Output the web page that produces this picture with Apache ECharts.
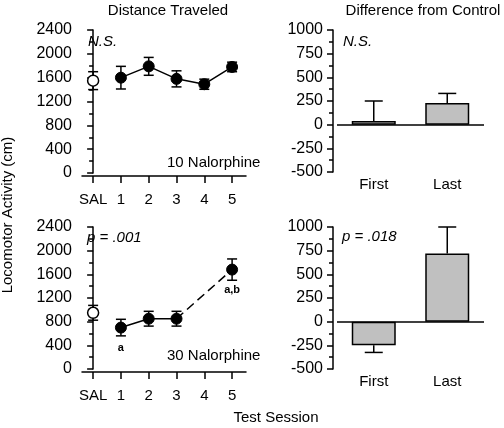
<!DOCTYPE html>
<html>
<head>
<meta charset="utf-8">
<script src="https://cdn.jsdelivr.net/npm/echarts@6/dist/echarts.min.js"></script>
<style>html,body{margin:0;padding:0;background:#fff}#c{width:504px;height:428px}</style>
</head>
<body>
<div id="c"></div>
<script>
// ---- data ----
const sessionLabels = ['SAL', '1', '2', '3', '4', '5'];
const sessionX = [0, 1, 2, 3, 4, 5];
const nal10Mean = [1550, 1600, 1790, 1580, 1490, 1780];
const nal10Err = [150, 190, 150, 135, 85, 80];
const nal30Mean = [950, 700, 850, 850, null, 1680];
const nal30Err = [125, 140, 125, 125, null, 180];
const diffCats = ['First', 'Last'];
const diff10 = [40, 230];
const diff10Err = [210, 100];
const diff30 = [-250, 720];
const diff30Err = [75, 280];
const leftYTicks = [0, 400, 800, 1200, 1600, 2000, 2400];
const rightYTicks = [-500, -250, 0, 250, 500, 750, 1000];

const FONT = 'Liberation Sans, Arial, sans-serif';
const FS = 15;
const YFS = 16;
const BLACK = '#000';
const LW = 1.5;

function yAxisCfg(grid, ticks, offset) {
  return {
    type: 'value', gridIndex: grid, min: ticks[0], max: ticks[ticks.length - 1],
    interval: ticks[1] - ticks[0], offset: offset || 0,
    axisLine: { show: true, lineStyle: { color: BLACK, width: LW } },
    axisTick: { show: true, length: 6, lineStyle: { color: BLACK, width: LW } },
    minorTick: { show: true, splitNumber: 2, length: 4, lineStyle: { color: BLACK, width: LW } },
    splitLine: { show: false }, minorSplitLine: { show: false },
    axisLabel: { color: BLACK, fontSize: YFS, fontFamily: FONT, margin: 10, formatter: v => String(v) }
  };
}
function xSessionAxis(grid) {
  return {
    type: 'value', gridIndex: grid, min: -0.4, max: 5.5, offset: 3,
    axisLine: { show: true, onZero: false, lineStyle: { color: BLACK, width: LW } },
    axisTick: { show: true, length: 7, customValues: sessionX, lineStyle: { color: BLACK, width: LW } },
    splitLine: { show: false },
    axisLabel: { show: true, customValues: sessionX, color: BLACK, fontSize: FS, fontFamily: FONT, margin: 16,
      formatter: v => sessionLabels[Math.round(v)] }
  };
}
function xDiffAxis(grid) {
  return {
    type: 'category', gridIndex: grid, data: diffCats,
    axisLine: { show: false, onZero: false }, axisTick: { show: false },
    axisLabel: { color: BLACK, fontSize: FS, fontFamily: FONT, margin: 5 }
  };
}

function errRender(capW, oneSided) {
  return function (params, api) {
    const x = api.value(0), y = api.value(1), e = api.value(2);
    const hiV = oneSided ? (y >= 0 ? y + e : y) : y + e;
    const loV = oneSided ? (y >= 0 ? y : y - e) : y - e;
    const endV = oneSided ? (y >= 0 ? y + e : y - e) : null;
    const hi = api.coord([x, hiV]), lo = api.coord([x, loV]);
    const children = [{ type: 'line', shape: { x1: hi[0], y1: hi[1], x2: lo[0], y2: lo[1] }, style: { stroke: BLACK, lineWidth: LW } }];
    const caps = oneSided ? [api.coord([x, endV])] : [hi, lo];
    caps.forEach(p => children.push({ type: 'line', shape: { x1: p[0] - capW / 2, y1: p[1], x2: p[0] + capW / 2, y2: p[1] }, style: { stroke: BLACK, lineWidth: LW } }));
    return { type: 'group', children };
  };
}

function pts(xs, ys, from, to) {
  const out = [];
  for (let i = from; i <= to; i++) if (ys[i] != null) out.push([xs[i], ys[i]]);
  return out;
}
function errData(xs, ys, es) {
  const out = [];
  for (let i = 0; i < xs.length; i++) if (ys[i] != null) out.push([xs[i], ys[i], es[i]]);
  return out;
}

const markerFilled = { color: BLACK, borderColor: BLACK, borderWidth: 1, opacity: 1 };
const markerOpen = { color: '#fff', borderColor: BLACK, borderWidth: LW, opacity: 1 };

const series = [];
// top-left
series.push({ type: 'custom', xAxisIndex: 0, yAxisIndex: 0, z: 1, clip: false, renderItem: errRender(10, false), data: errData(sessionX, nal10Mean, nal10Err) });
series.push({ type: 'line', xAxisIndex: 0, yAxisIndex: 0, z: 2, showSymbol: false, lineStyle: { color: BLACK, width: LW }, data: pts(sessionX, nal10Mean, 1, 5) });
series.push({ type: 'scatter', xAxisIndex: 0, yAxisIndex: 0, z: 3, symbolSize: 11, itemStyle: markerFilled, data: pts(sessionX, nal10Mean, 1, 5) });
series.push({ type: 'scatter', xAxisIndex: 0, yAxisIndex: 0, z: 3, symbolSize: 11, itemStyle: markerOpen, data: pts(sessionX, nal10Mean, 0, 0) });
// bottom-left
series.push({ type: 'custom', xAxisIndex: 2, yAxisIndex: 2, z: 1, clip: false, renderItem: errRender(10, false), data: errData(sessionX, nal30Mean, nal30Err) });
series.push({ type: 'line', xAxisIndex: 2, yAxisIndex: 2, z: 2, showSymbol: false, lineStyle: { color: BLACK, width: LW }, data: pts(sessionX, nal30Mean, 1, 3) });
series.push({ type: 'line', xAxisIndex: 2, yAxisIndex: 2, z: 2, showSymbol: false, lineStyle: { color: BLACK, width: LW, type: [9, 5] }, data: pts(sessionX, nal30Mean, 3, 5) });
const sigLabels = { 1: 'a', 5: 'a,b' };
series.push({ type: 'scatter', xAxisIndex: 2, yAxisIndex: 2, z: 3, symbolSize: 11, itemStyle: markerFilled,
  data: pts(sessionX, nal30Mean, 1, 5).map(p => ({ value: p, label: sigLabels[p[0]] ? { show: true, formatter: sigLabels[p[0]] } : { show: false } })),
  label: { position: 'bottom', distance: 9, color: BLACK, fontSize: 11, fontWeight: 'bold', fontFamily: FONT } });
series.push({ type: 'scatter', xAxisIndex: 2, yAxisIndex: 2, z: 3, symbolSize: 11, itemStyle: markerOpen, data: pts(sessionX, nal30Mean, 0, 0) });

// right panels
function barSet(ax, vals, errs) {
  series.push({ type: 'bar', xAxisIndex: ax, yAxisIndex: ax, z: 2, barWidth: 44, data: vals,
    itemStyle: { color: '#c0c0c0', borderColor: BLACK, borderWidth: LW },
    markLine: { silent: true, symbol: ['none', 'none'], label: { show: false }, lineStyle: { color: BLACK, type: 'solid', width: LW }, data: [{ yAxis: 0 }] } });
  series.push({ type: 'custom', xAxisIndex: ax, yAxisIndex: ax, z: 1, clip: false, renderItem: errRender(18, true),
    data: vals.map((v, i) => [i, v, errs[i]]) });
}
barSet(1, diff10, diff10Err);
barSet(3, diff30, diff30Err);

function txt(x, y, s, opts) {
  return { type: 'text', x, y, style: Object.assign({ text: s, fill: BLACK, font: FS + 'px ' + FONT, textAlign: 'left', textVerticalAlign: 'middle' }, opts || {}) };
}
const IT = 'italic ' + FS + 'px ' + FONT;

const option = {
  animation: false,
  backgroundColor: '#fff',
  grid: [
    { left: 82, top: 30, width: 164, height: 143 },
    { left: 337, top: 30, width: 147, height: 142 },
    { left: 82, top: 227, width: 164, height: 142 },
    { left: 337, top: 227, width: 147, height: 142 }
  ],
  xAxis: [xSessionAxis(0), xDiffAxis(1), xSessionAxis(2), xDiffAxis(3)],
  yAxis: [yAxisCfg(0, leftYTicks), yAxisCfg(1, rightYTicks, 4), yAxisCfg(2, leftYTicks), yAxisCfg(3, rightYTicks, 4)],
  series,
  graphic: [
    txt(168, 11, 'Distance Traveled', { textAlign: 'center' }),
    txt(423, 11, 'Difference from Control', { textAlign: 'center' }),
    txt(88, 42, 'N.S.', { font: IT }),
    txt(343, 42, 'N.S.', { font: IT }),
    txt(87, 238, 'p = .001', { font: IT }),
    txt(342, 237, 'p = .018', { font: IT }),
    txt(167, 163, '10 Nalorphine'),
    txt(167, 356, '30 Nalorphine'),
    { type: 'text', x: 8, y: 215, rotation: Math.PI / 2, style: { text: 'Locomotor Activity (cm)', fill: BLACK, font: FS + 'px ' + FONT, textAlign: 'center', textVerticalAlign: 'middle' } },
    txt(276, 418, 'Test Session', { textAlign: 'center' })
  ]
};
const chart = echarts.init(document.getElementById('c'), null, { renderer: 'canvas' });
chart.setOption(option);
</script>
</body>
</html>
